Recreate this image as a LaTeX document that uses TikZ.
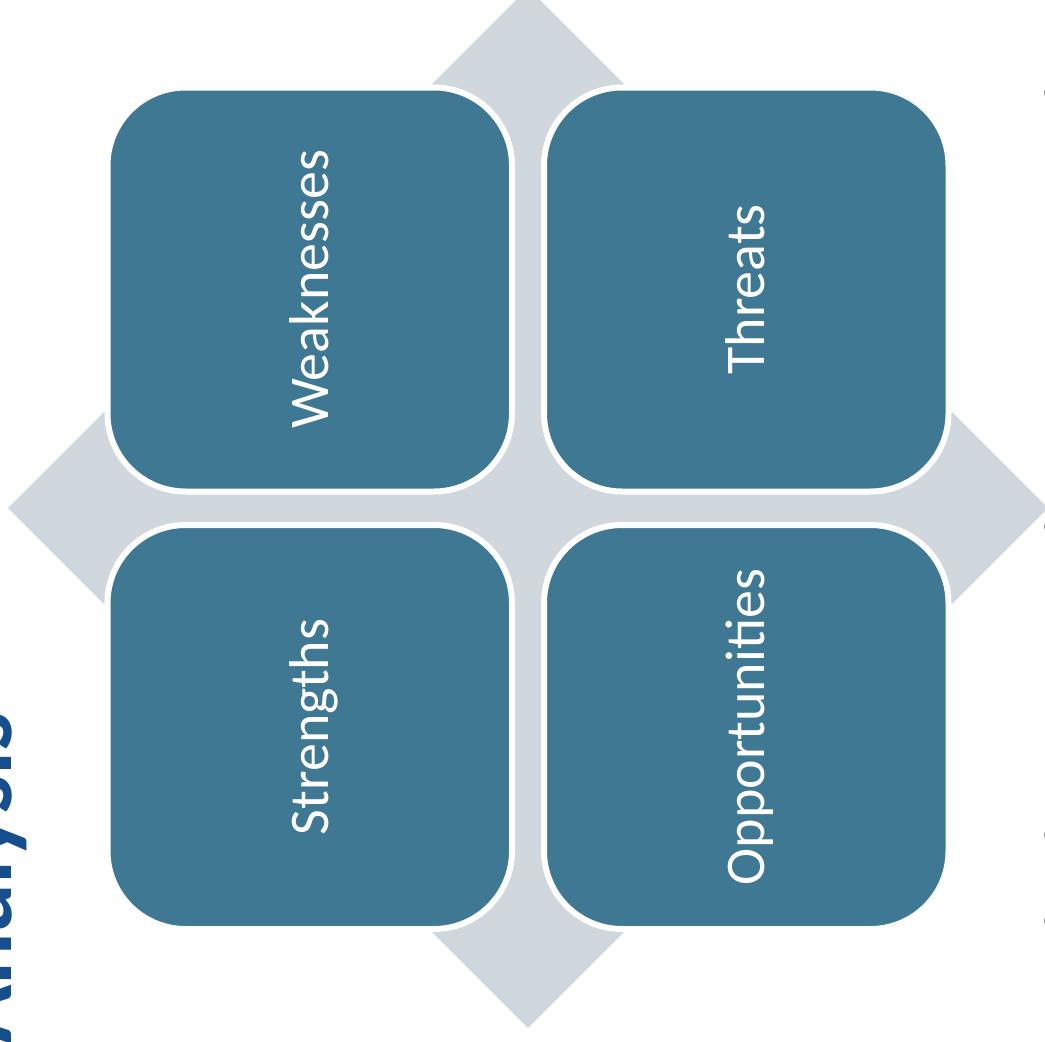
\documentclass[tikz,border=0pt]{standalone}
\usepackage{fontspec}
\setmainfont{Carlito}
\definecolor{boxblue}{RGB}{63,120,147}
\definecolor{crossgray}{RGB}{208,215,221}
\definecolor{titleblue}{RGB}{22,78,142}
\definecolor{fragdark}{RGB}{40,40,40}
\begin{document}
\begin{tikzpicture}[x=1pt,y=-1pt,
  quad/.style={fill=boxblue,draw=white,line width=6pt,rounded corners=78pt},
  quadlabel/.style={text=white,font=\fontsize{56}{60}\selectfont,rotate=90,anchor=base,inner sep=0pt},
  frag/.style={text=fragdark,font=\fontsize{26}{28}\selectfont,anchor=west,inner sep=0pt}]
\useasboundingbox (0,0) rectangle (1045,1042);
\clip (0,0) rectangle (1045,1042);
% background cross with four arrow heads
\fill[crossgray] (432,84) -- (528,-12) -- (624,84) -- (624,412) -- (952,412) -- (1048,508)
  -- (952,604) -- (624,604) -- (624,932) -- (528,1028) -- (432,932) -- (432,604)
  -- (104,604) -- (8,508) -- (104,412) -- (432,412) -- cycle;
% four quadrant boxes
\path[quad] (107.5,87.5) rectangle (512,491.5);
\path[quad] (544,87.5) rectangle (948.5,491.5);
\path[quad] (107.5,525) rectangle (512,929);
\path[quad] (544,525) rectangle (948.5,929);
\node[quadlabel] (w) at (328,289.5) {Weaknesses};
\node[quadlabel] (t) at (764,289.5) {Threats};
\node[quadlabel] (s) at (328,727) {Strengths};
\node[quadlabel] (o) at (764,727) {Opportunities};
% cut-off title
\node[text=titleblue,font=\fontsize{98}{100}\selectfont\bfseries,rotate=90,anchor=base east,inner sep=0pt] (title) at (12,712) {Analysis};
% cut-off fragments at the right edge
\node[frag] (f1) at (1043.5,93) {o};
\node[frag] (f2) at (1043.5,527) {o};
\node[frag] (f3) at (1043.5,835) {o};
\node[frag] (f4) at (1043.5,921) {o};
\end{tikzpicture}
\end{document}
